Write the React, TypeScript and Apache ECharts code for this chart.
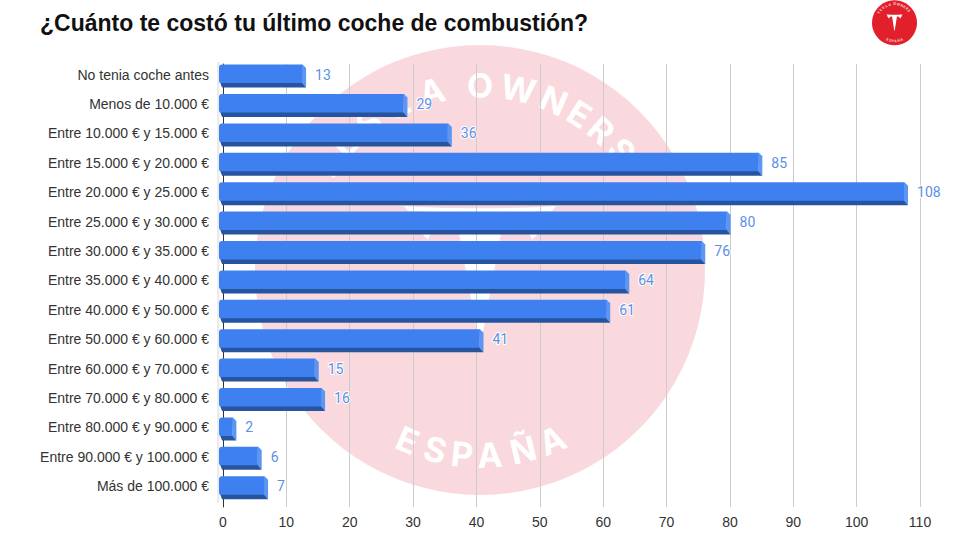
import React, { useEffect, useRef } from "react";
import * as echarts from "echarts";

const titleText = "¿Cuánto te costó tu último coche de combustión?";
const categories = [
  "No tenia coche antes",
  "Menos de 10.000 €",
  "Entre 10.000 € y 15.000 €",
  "Entre 15.000 € y 20.000 €",
  "Entre 20.000 € y 25.000 €",
  "Entre 25.000 € y 30.000 €",
  "Entre 30.000 € y 35.000 €",
  "Entre 35.000 € y 40.000 €",
  "Entre 40.000 € y 50.000 €",
  "Entre 50.000 € y 60.000 €",
  "Entre 60.000 € y 70.000 €",
  "Entre 70.000 € y 80.000 €",
  "Entre 80.000 € y 90.000 €",
  "Entre 90.000 € y 100.000 €",
  "Más de 100.000 €",
];
const values = [13, 29, 36, 85, 108, 80, 76, 64, 61, 41, 15, 16, 2, 6, 7];

const topLetters = ["T", "E", "S", "L", "A", "O", "W", "N", "E", "R", "S"];
const topAngles = [-57, -47, -37, -26, -15, 0, 12, 23.5, 32.5, 41, 50];
const bottomLetters = ["E", "S", "P", "A", "Ñ", "A"];
const bottomAngles = [-23, -14, -5.5, 3, 13.5, 23];

const tPath =
  "M-72 12 C-40 6 40 6 72 12 C66 22 60 30 52 38 C50 32 48 28 45 24 C36 21 28 20 23 20 L3 130 L0 133 L-3 130 L-23 20 C-28 20 -36 21 -45 24 C-48 28 -50 32 -52 38 C-60 30 -66 22 -72 12 Z " +
  "M-76 4 C-40 7 40 7 76 4 L72 9 C40 10 -40 10 -72 9 Z";
echarts.graphic.registerShape("teslaT", echarts.graphic.extendPath(tPath as any, {}) as any);

const rad = (d: number) => (d * Math.PI) / 180;

function ringLetters(
  cx: number,
  cy: number,
  r: number,
  fontSize: number,
  fill: string,
  z: number
) {
  const out: any[] = [];
  topLetters.forEach((ch, i) => {
    const a = rad(topAngles[i]);
    out.push({
      type: "text",
      x: cx + r * Math.sin(a),
      y: cy - r * Math.cos(a),
      rotation: -a,
      z,
      silent: true,
      style: { text: ch, fill, font: `700 ${fontSize}px Inter`, align: "center", verticalAlign: "middle" },
    });
  });
  bottomLetters.forEach((ch, i) => {
    const a = rad(bottomAngles[i]);
    out.push({
      type: "text",
      x: cx + r * Math.sin(a),
      y: cy + r * Math.cos(a),
      rotation: a,
      z,
      silent: true,
      style: { text: ch, fill, font: `700 ${fontSize}px Inter`, align: "center", verticalAlign: "middle" },
    });
  });
  return out;
}

function renderBar(params: any, api: any) {
  const v = api.value(0);
  const i = api.value(1);
  const [x0, cyRaw] = api.coord([0, i]);
  const [xv] = api.coord([v, i]);
  const cy = cyRaw - 0.4;
  const right = xv + 0.7;
  const L = x0 - 4;
  const X = right - 4;
  const T = cy - 11.5;
  const F = cy + 7;
  const B = cy + 11.5;
  return {
    type: "group",
    children: [
      {
        type: "polygon",
        shape: { points: [[L + 1, F - 1], [X, F - 1], [X + 4, B], [L + 3, B]] },
        style: { fill: "#27549f" },
      },
      {
        type: "polygon",
        shape: { points: [[X - 0.5, T], [X + 0.5, T], [X + 4, T + 3.5], [X + 4, B], [X, F]] },
        style: { fill: "#5c95f2" },
      },
      {
        type: "rect",
        shape: { x: L, y: T, width: Math.max(X - L, 1), height: F - T, r: [3, 0, 0, 2] },
        style: { fill: "#3f80f1" },
      },
      {
        type: "text",
        x: right + 9,
        y: cy - 1.5,
        style: {
          text: String(v),
          fill: "#5b8fe8",
          font: "14px Roboto",
          align: "left",
          verticalAlign: "middle",
          stroke: "#ffffff",
          lineWidth: 2,
        },
      },
    ],
  };
}

export default function App() {
  const ref = useRef<HTMLDivElement>(null);
  useEffect(() => {
    const chart = echarts.init(ref.current!, null, { renderer: "svg" });
    chart.setOption({
      animation: false,
      backgroundColor: "#ffffff",
      title: {
        text: titleText,
        left: 40,
        top: 11,
        padding: 0,
        textStyle: { fontFamily: "Liberation Sans", fontSize: 23, fontWeight: "bold", color: "#111111" },
      },
      graphic: {
        elements: [
          { type: "circle", z: -20, silent: true, shape: { cx: 480, cy: 270, r: 225 }, style: { fill: "#f9d9dd" } },
          { type: "teslaT", z: -19, silent: true, x: 480, y: 202, style: { fill: "#ffffff" } },
          ...ringLetters(480, 270, 185, 34, "#ffffff", -19),
          { type: "rect", z: -18, silent: true, shape: { x: 217, y: 62, width: 2.5, height: 441 }, style: { fill: "#ececec" } },
          { type: "circle", z: 20, silent: true, shape: { cx: 894.5, cy: 22.8, r: 22.5 }, style: { fill: "#e2202c" } },
          { type: "teslaT", z: 21, silent: true, x: 894.5, y: 14, scaleX: 0.105, scaleY: 0.125, style: { fill: "#ffffff" } },
          ...ringLetters(894.5, 22.8, 18.5, 3.4, "#fbd5d8", 21),
        ],
      },
      grid: [
        { left: 223, width: 697, top: 64, height: 443 },
        { left: 223, width: 697, top: 61.8, height: 441 },
      ],
      xAxis: [
        {
          gridIndex: 0,
          type: "value",
          min: 0,
          max: 110,
          interval: 10,
          axisLine: { show: false },
          axisTick: { show: false },
          splitLine: { show: true, lineStyle: { color: "#cccccc", width: 1 } },
          axisLabel: { color: "#333333", fontFamily: "Liberation Sans", fontSize: 14, margin: 8 },
        },
        { gridIndex: 1, type: "value", min: 0, max: 110, interval: 10, show: false },
      ],
      yAxis: [
        {
          gridIndex: 0,
          type: "value",
          min: 0,
          max: 1,
          axisLine: { show: true, lineStyle: { color: "#333333", width: 1 } },
          axisTick: { show: false },
          axisLabel: { show: false },
          splitLine: { show: false },
        },
        {
          gridIndex: 1,
          type: "category",
          inverse: true,
          data: categories,
          axisLine: { show: false },
          axisTick: { show: false },
          splitLine: { show: false },
          axisLabel: {
            color: "#333333",
            fontFamily: "Liberation Sans",
            fontSize: 14,
            margin: 14,
            interval: 0,
            align: "right",
            verticalAlign: "bottom",
            lineHeight: 4,
          },
        },
      ],
      series: [
        {
          type: "custom",
          xAxisIndex: 1,
          yAxisIndex: 1,
          clip: false,
          z: 5,
          silent: true,
          encode: { x: 0, y: 1 },
          data: values.map((v, i) => [v, i]),
          renderItem: renderBar,
        },
      ],
    });
    return () => chart.dispose();
  }, []);
  return <div ref={ref} style={{ position: "fixed", left: 0, top: 0, width: 960, height: 540 }} />;
}
